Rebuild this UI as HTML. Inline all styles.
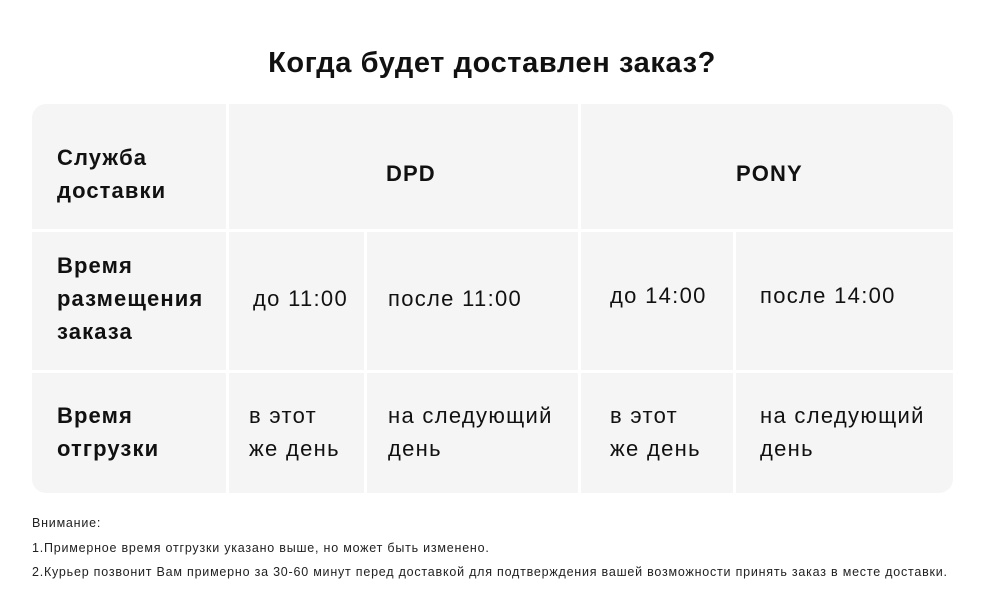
<!DOCTYPE html><html><head><meta charset="utf-8"><style>
body{margin:0;width:984px;height:616px;background:#fff;font-family:"Liberation Sans",sans-serif;color:#111;position:relative;overflow:hidden}
.t{position:absolute;left:0;width:984px;top:47px;text-align:center;font-size:29px;font-weight:bold;letter-spacing:0.6px}
.bg{position:absolute;left:32px;top:104px;width:921px;height:389px;border-radius:14px;background:#f5f5f5;overflow:hidden}
.v,.h{position:absolute;background:#fff}
.c{position:absolute;font-size:22px;line-height:33px;letter-spacing:1.3px}
.b{font-weight:bold;letter-spacing:1.1px}
.n{position:absolute;left:32px;font-size:12.5px;color:#222;letter-spacing:0.78px}
</style></head><body>
<div class="t">Когда будет доставлен заказ?</div>
<div class="bg">
<div class="h" style="left:0;top:125px;width:921px;height:3px"></div>
<div class="h" style="left:0;top:266px;width:921px;height:3px"></div>
<div class="v" style="left:194px;top:0;width:3px;height:389px"></div>
<div class="v" style="left:546px;top:0;width:3px;height:389px"></div>
<div class="v" style="left:332px;top:125px;width:3px;height:264px"></div>
<div class="v" style="left:701px;top:125px;width:3px;height:264px"></div>
</div>
<div class="c b" style="left:57px;top:141px">Служба<br>доставки</div>
<div class="c b" style="left:386px;top:157px">DPD</div>
<div class="c b" style="left:736px;top:157px">PONY</div>
<div class="c b" style="left:57px;top:249px">Время<br>размещения<br>заказа</div>
<div class="c" style="left:253px;top:282px">до 11:00</div>
<div class="c" style="left:388px;top:282px">после 11:00</div>
<div class="c" style="left:610px;top:279px">до 14:00</div>
<div class="c" style="left:760px;top:279px">после 14:00</div>
<div class="c b" style="left:57px;top:399px">Время<br>отгрузки</div>
<div class="c" style="left:249px;top:399px">в этот<br>же день</div>
<div class="c" style="left:388px;top:399px">на следующий<br>день</div>
<div class="c" style="left:610px;top:399px">в этот<br>же день</div>
<div class="c" style="left:760px;top:399px">на следующий<br>день</div>
<div class="n" style="top:516px">Внимание:</div>
<div class="n" style="top:541px">1.Примерное время отгрузки указано выше, но может быть изменено.</div>
<div class="n" style="top:565px">2.Курьер позвонит Вам примерно за 30-60 минут перед доставкой для подтверждения вашей возможности принять заказ в месте доставки.</div>
</body></html>
